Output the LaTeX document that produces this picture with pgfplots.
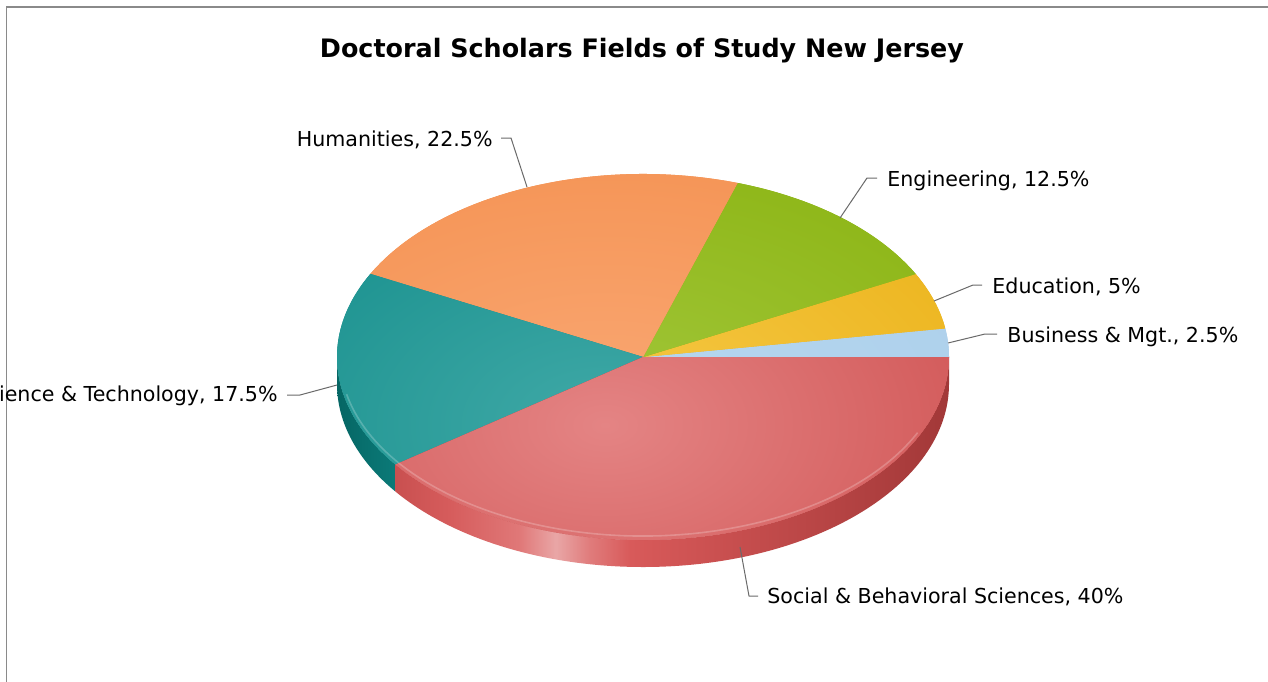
\documentclass[border=0pt]{standalone}
\usepackage{pgfplots}
\pgfplotsset{compat=1.18}
\usepackage{pgfplotstable}
\usepackage{fontspec}
\setmainfont{DejaVu Sans}

\definecolor{bizI}{HTML}{B7D7EF}\definecolor{bizO}{HTML}{A8CDEA}
\definecolor{eduI}{HTML}{F6C947}\definecolor{eduO}{HTML}{E7AB0A}
\definecolor{engI}{HTML}{A2C73B}\definecolor{engO}{HTML}{84AE06}
\definecolor{humI}{HTML}{FAA874}\definecolor{humO}{HTML}{F28A46}
\definecolor{sciI}{HTML}{40A9A7}\definecolor{sciO}{HTML}{02827F}
\definecolor{socI}{HTML}{E48484}\definecolor{socO}{HTML}{C63C3C}
\definecolor{sciSL}{HTML}{056664}\definecolor{sciSR}{HTML}{0B7A78}
\definecolor{leader}{HTML}{6A6A6A}
\definecolor{frame}{HTML}{8A8A8A}
\definecolor{sA}{HTML}{C95050}\definecolor{sB}{HTML}{D65C5C}
\definecolor{sC}{HTML}{E07878}\definecolor{sD}{HTML}{E9A6A6}
\definecolor{sE}{HTML}{E07C7C}\definecolor{sF}{HTML}{D85A5A}
\definecolor{sG}{HTML}{CD5252}\definecolor{sH}{HTML}{B84545}
\definecolor{sI}{HTML}{A23838}

\pgfdeclarehorizontalshading{socside}{100bp}{%
 color(0bp)=(sA); color(25bp)=(sA);
 color(29.9bp)=(sB); color(36.2bp)=(sC);
 color(39.5bp)=(sD); color(42.5bp)=(sE);
 color(46.2bp)=(sF); color(52.5bp)=(sG);
 color(63.3bp)=(sH); color(75bp)=(sI);
 color(100bp)=(sI)}

\pgfplotstableread{
name value
Business 2.5
Education 5
Engineering 12.5
Humanities 22.5
Science 17.5
Social 40
}\piedata

% slice of the top face: start angle, end angle, inner colour, outer colour
\newcommand{\slice}[4]{%
 \begin{scope}
  \clip (axis cs:643,357) -- (axis cs:{643+306*cos(#1)},{357-183*sin(#1)})
    arc[start angle=#1,end angle=#2,x radius=153pt,y radius=91.5pt] -- cycle;
  \fill[#4] (axis cs:643,357) ellipse[x radius=170pt,y radius=110pt];
  \shade[inner color=#3,outer color=#4] (axis cs:605,425) ellipse[x radius=330pt,y radius=210pt];
 \end{scope}}
% side wall between two angles
\newcommand{\side}[3]{%
 \shade[#3] (axis cs:{643+306*cos(#1)},{357-183*sin(#1)})
   arc[start angle=#1,end angle=#2,x radius=153pt,y radius=91.5pt]
   -- ++(0pt,-13.5pt)
   arc[start angle=#2,end angle=#1,x radius=153pt,y radius=91.5pt] -- cycle;}

\begin{document}
\begin{tikzpicture}
\begin{axis}[width=634pt, height=340.5pt, scale only axis,
  xmin=0, xmax=1268, ymin=0, ymax=681, y dir=reverse,
  hide axis, clip=true]
\coordinate (tl) at (axis cs:0,0);
\coordinate (br) at (axis cs:1268,681);
\pgfplotsextra{
 \fill[white] (axis cs:0,0) rectangle (axis cs:1268,681);
 \pgfplotstablegetelem{0}{value}\of\piedata \pgfmathsetmacro\angB{3.6*\pgfplotsretval}
 \pgfplotstablegetelem{1}{value}\of\piedata \pgfmathsetmacro\angC{\angB+3.6*\pgfplotsretval}
 \pgfplotstablegetelem{2}{value}\of\piedata \pgfmathsetmacro\angD{\angC+3.6*\pgfplotsretval}
 \pgfplotstablegetelem{3}{value}\of\piedata \pgfmathsetmacro\angE{\angD+3.6*\pgfplotsretval}
 \pgfplotstablegetelem{4}{value}\of\piedata \pgfmathsetmacro\angF{\angE+3.6*\pgfplotsretval}
 \pgfplotstablegetelem{5}{value}\of\piedata \pgfmathsetmacro\angG{\angF+3.6*\pgfplotsretval}
 % side walls
 \side{180}{\angF}{left color=sciSL,right color=sciSR}
 \side{\angF}{\angG}{shading=socside}
 % top faces
 \slice{0}{\angB}{bizI}{bizO}
 \slice{\angB}{\angC}{eduI}{eduO}
 \slice{\angC}{\angD}{engI}{engO}
 \slice{\angD}{\angE}{humI}{humO}
 \slice{\angE}{\angF}{sciI}{sciO}
 \slice{\angF}{\angG}{socI}{socO}
 % rim highlight
 \draw[white,opacity=0.22,line width=0.8pt] (axis cs:{643+303*cos(192)},{357-179*sin(192)})
   arc[start angle=192,end angle=335,x radius=151.5pt,y radius=89.5pt];
 % frame
 \draw[frame,line width=0.9pt] (axis cs:6.5,7) rectangle (axis cs:1300,720);
}
\node[font=\fontsize{12.7}{15}\selectfont\bfseries] at (axis cs:642,51) {Doctoral Scholars Fields of Study New Jersey};
% leader lines
\draw[leader,line width=0.5pt] (axis cs:501,138) -- (axis cs:511,138) -- (axis cs:527,187);
\draw[leader,line width=0.5pt] (axis cs:877,178) -- (axis cs:867,178) -- (axis cs:840,218);
\draw[leader,line width=0.5pt] (axis cs:982,285) -- (axis cs:973,285) -- (axis cs:934,301);
\draw[leader,line width=0.5pt] (axis cs:997,334) -- (axis cs:985,334) -- (axis cs:948,343);
\draw[leader,line width=0.5pt] (axis cs:287,395) -- (axis cs:300,395) -- (axis cs:337,385);
\draw[leader,line width=0.5pt] (axis cs:758,596) -- (axis cs:749,596) -- (axis cs:740,547);
% labels
\begin{scope}[every node/.style={font=\fontsize{10.3}{12}\selectfont, inner sep=0pt}]
\node[anchor=east] at (axis cs:493,140) {Humanities, 22.5\%};
\node[anchor=west] at (axis cs:887,181) {Engineering, 12.5\%};
\node[anchor=west] at (axis cs:992,287) {Education, 5\%};
\node[anchor=west] at (axis cs:1007,337) {Business \& Mgt., 2.5\%};
\node[anchor=east] at (axis cs:278,396) {Science \& Technology, 17.5\%};
\node[anchor=west] at (axis cs:767,597) {Social \& Behavioral Sciences, 40\%};
\end{scope}
\end{axis}
\pgfresetboundingbox
\path[use as bounding box] (tl) rectangle (br);
\end{tikzpicture}
\end{document}
